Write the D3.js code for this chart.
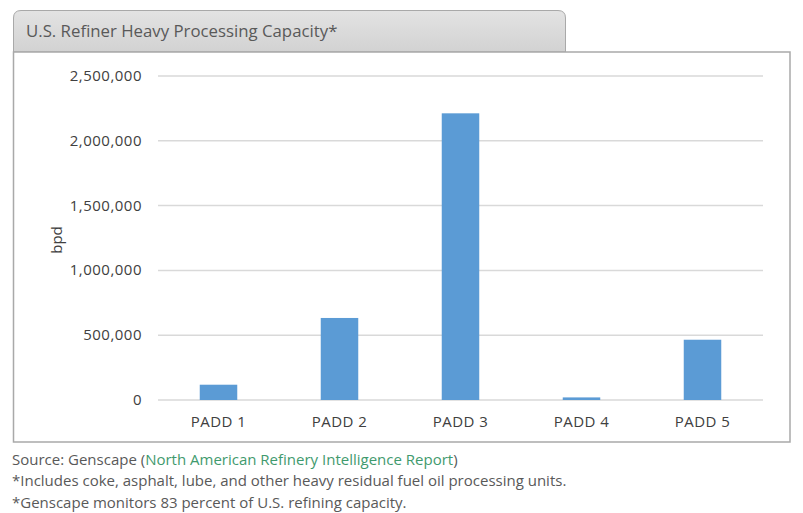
<!DOCTYPE html>
<html>
<head>
<meta charset="utf-8">
<script src="https://cdnjs.cloudflare.com/ajax/libs/d3/7.8.5/d3.min.js"></script>
<style>
  body { margin: 0; background: #fff; }
  text { font-family: "Open Sans", "Noto Sans", sans-serif; }
</style>
</head>
<body>
<div id="chart"></div>
<script>
// data
var categories = ["PADD 1", "PADD 2", "PADD 3", "PADD 4", "PADD 5"];
var capacity = [118000, 633000, 2212000, 20000, 465000];
var yTicks = [0, 500000, 1000000, 1500000, 2000000, 2500000];

var width = 803, height = 513;
var svg = d3.select("#chart")
  .append("svg")
  .attr("width", width)
  .attr("height", height);

// title tab
var tab = svg.append("defs").append("linearGradient")
  .attr("id", "tabfill").attr("x1", 0).attr("y1", 0).attr("x2", 0).attr("y2", 1);
tab.append("stop").attr("offset", "0%").attr("stop-color", "#e3e3e3");
tab.append("stop").attr("offset", "100%").attr("stop-color", "#d2d2d2");

svg.append("path")
  .attr("d", "M13.5,52 L13.5,18 Q13.5,10.5 21,10.5 L558,10.5 Q565.5,10.5 565.5,18 L565.5,52 Z")
  .attr("fill", "url(#tabfill)")
  .attr("stroke", "#a9a9a9")
  .attr("stroke-width", 1);

svg.append("text")
  .attr("x", 26)
  .attr("y", 37)
  .attr("font-size", 16.8)
  .attr("fill", "#595959")
  .text("U.S. Refiner Heavy Processing Capacity*");

// chart box
svg.append("rect")
  .attr("x", 13.5).attr("y", 52)
  .attr("width", 776.5).attr("height", 390)
  .attr("fill", "#fff")
  .attr("stroke", "#a9a9a9")
  .attr("stroke-width", 1.5);

var x = d3.scaleBand()
  .domain(categories)
  .range([158, 763])
  .paddingInner(0.69)
  .paddingOuter(0.345);

var y = d3.scaleLinear()
  .domain([0, 2500000])
  .range([400, 76]);

var g = svg.append("g");

// gridlines
g.selectAll("line.grid")
  .data(yTicks)
  .enter()
  .append("line")
  .attr("class", "grid")
  .attr("x1", 158)
  .attr("x2", 763)
  .attr("y1", function(d){ return y(d); })
  .attr("y2", function(d){ return y(d); })
  .attr("stroke", "#d9d9d9")
  .attr("stroke-width", 1.5);

// y labels
g.selectAll("text.ytick")
  .data(yTicks)
  .enter()
  .append("text")
  .attr("class", "ytick")
  .attr("x", 142)
  .attr("y", function(d){ return y(d) + 5; })
  .attr("text-anchor", "end")
  .attr("font-size", 15)
  .attr("letter-spacing", 0.5)
  .attr("fill", "#404040")
  .text(function(d){ return d3.format(",")(d); });

// bars
g.selectAll("rect.bar")
  .data(capacity)
  .enter()
  .append("rect")
  .attr("class", "bar")
  .attr("x", function(d, i){ return x(categories[i]); })
  .attr("width", x.bandwidth())
  .attr("y", function(d){ return y(d); })
  .attr("height", function(d){ return y(0) - y(d); })
  .attr("fill", "#5b9bd5");

// x labels
g.selectAll("text.xtick")
  .data(categories)
  .enter()
  .append("text")
  .attr("class", "xtick")
  .attr("x", function(d){ return x(d) + x.bandwidth() / 2; })
  .attr("y", 427)
  .attr("text-anchor", "middle")
  .attr("font-size", 15)
  .attr("letter-spacing", 0.5)
  .attr("fill", "#404040")
  .text(function(d){ return d; });

// axis title
svg.append("text")
  .attr("transform", "translate(62,240) rotate(-90)")
  .attr("text-anchor", "middle")
  .attr("font-size", 15)
  .attr("fill", "#404040")
  .text("bpd");

// footnotes
var src = svg.append("text")
  .attr("x", 12).attr("y", 465)
  .attr("font-size", 15)
  .attr("fill", "#595959");
src.append("tspan").text("Source: Genscape (");
src.append("tspan").attr("fill", "#3f9a6e").text("North American Refinery Intelligence Report");
src.append("tspan").text(")");

svg.append("text")
  .attr("x", 12).attr("y", 486)
  .attr("font-size", 15)
  .attr("fill", "#595959")
  .text("*Includes coke, asphalt, lube, and other heavy residual fuel oil processing units.");

svg.append("text")
  .attr("x", 12).attr("y", 508)
  .attr("font-size", 15)
  .attr("fill", "#595959")
  .text("*Genscape monitors 83 percent of U.S. refining capacity.");
</script>
</body>
</html>
